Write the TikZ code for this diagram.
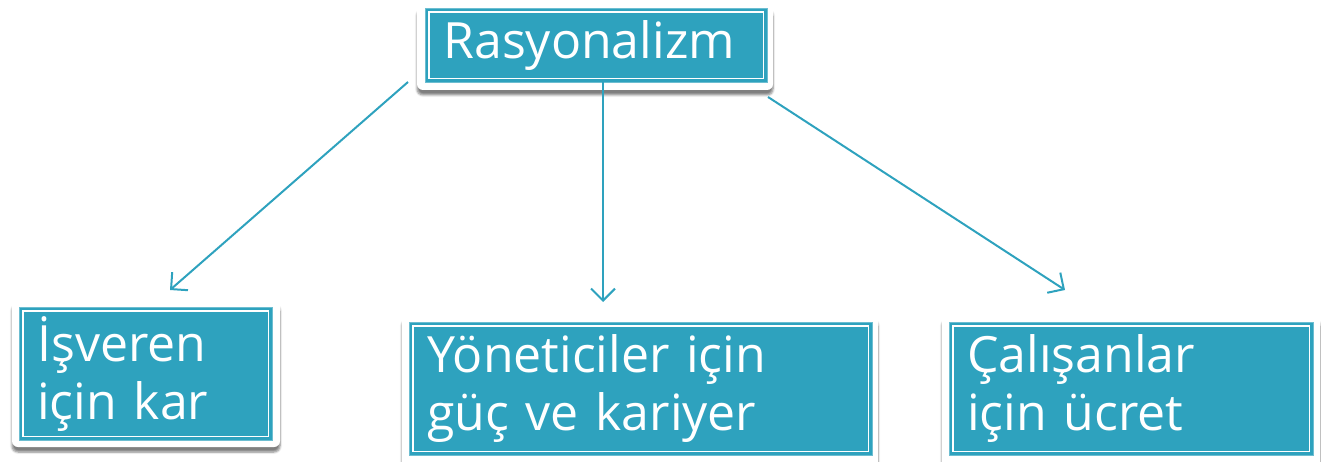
\documentclass[tikz,border=0pt]{standalone}
\usepackage{fontspec}
\setmainfont{Open Sans}
\usetikzlibrary{shadows.blur,arrows.meta}
\definecolor{teal1}{RGB}{46,162,190}
\begin{document}
\begin{tikzpicture}[x=1pt,y=-1pt,
  card/.style={fill=white, rounded corners=6pt,
    blur shadow={shadow xshift=0pt, shadow yshift=-5pt, shadow opacity=50, shadow blur steps=6}},
  box/.style={fill=teal1, draw=teal1!70!white, line width=0.6pt, text=white,
    font=\fontsize{50}{58}\selectfont, align=left, inner xsep=18pt, inner ysep=0pt, anchor=north west},
  inner/.style={draw=white, line width=1.4pt},
  conn/.style={draw=teal1, line width=2pt, -{Straight Barb[length=12pt,width=24pt,line width=2pt]}}]
\useasboundingbox (0,0) rectangle (1321,462);
% cards
\path[card] (417,5) rectangle (773,90);
\path[card] (12,300) rectangle (280,447);
\path[card] (402,315) rectangle (878,475);
\path[card] (942,315) rectangle (1320,475);
% boxes
\node[box, minimum width=342pt, minimum height=74pt, text width=306pt] (top) at (425,8) {Rasyonalizm};
\node[box, minimum width=253pt, minimum height=133pt, text width=217pt] (b1) at (19,307) {İşveren\\için kar};
\node[box, minimum width=463pt, minimum height=133pt, text width=427pt] (b2) at (409,322) {Yöneticiler için\\güç ve kariyer};
\node[box, minimum width=364pt, minimum height=133pt, text width=328pt] (b3) at (949,322) {Çalışanlar\\için ücret};
\foreach \n in {top,b1,b2,b3}
  \draw[inner] ([shift={(4pt,-4pt)}]\n.north west) rectangle ([shift={(-4pt,4pt)}]\n.south east);
% connectors
\coordinate (s1) at (408,82);
\coordinate (e1) at (170,290);
\coordinate (s2) at (603,82);
\coordinate (e2) at (603,302);
\coordinate (s3) at (768,97);
\coordinate (e3) at (1065,290);
\draw[conn] (s1) -- (e1);
\draw[conn] (s2) -- (e2);
\draw[conn] (s3) -- (e3);
\end{tikzpicture}
\end{document}
